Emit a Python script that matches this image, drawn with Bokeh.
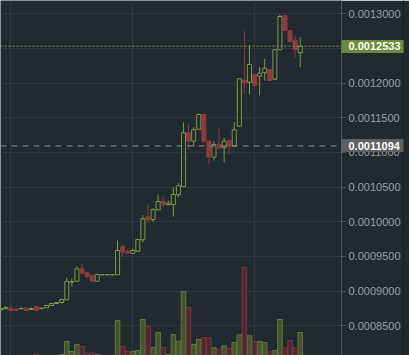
from bokeh.plotting import figure
from bokeh.models import Range1d, FixedTicker, PrintfTickFormatter, Span, LinearAxis, ColumnDataSource
from bokeh.embed import file_html
from bokeh.resources import INLINE

# ---- data (hourly candles) ----
idx = list(range(60))
opens = [0.0008731, 0.0008745, 0.0008754, 0.0008740, 0.0008745, 0.0008754, 0.0008735, 0.0008778, 0.0008745, 0.0008760,
         0.0008793, 0.0008822, 0.0008836, 0.0008875, 0.0009131, 0.0009143, 0.0009322, 0.0009265, 0.0009226, 0.0009143,
         0.0009236, 0.0009236, 0.0009236, 0.0009236, 0.0009644, 0.0009576, 0.0009547, 0.0009576, 0.0009741, 0.0010077,
         0.0010033, 0.0010173, 0.0010293, 0.0010245, 0.0010250, 0.0010390, 0.0010509, 0.0011284, 0.0011163, 0.0011336,
         0.0011548, 0.0011163, 0.0010932, 0.0011115, 0.0011067, 0.0011173, 0.0011090, 0.0011379, 0.0012038, 0.0012013,
         0.0012120, 0.0012100, 0.0012149, 0.0012197, 0.0012057, 0.0012481, 0.0012975, 0.0012759, 0.0012615, 0.0012438]
highs = [0.0008754, 0.0008778, 0.0008778, 0.0008768, 0.0008764, 0.0008764, 0.0008764, 0.0008786, 0.0008764, 0.0008797,
         0.0008825, 0.0008840, 0.0008885, 0.0009197, 0.0009182, 0.0009360, 0.0009394, 0.0009268, 0.0009230, 0.0009250,
         0.0009236, 0.0009236, 0.0009236, 0.0009730, 0.0009668, 0.0009615, 0.0009615, 0.0009750, 0.0010095, 0.0010250,
         0.0010192, 0.0010394, 0.0010365, 0.0010307, 0.0010499, 0.0010557, 0.0011432, 0.0011414, 0.0011365, 0.0011558,
         0.0011552, 0.0011168, 0.0011163, 0.0011356, 0.0011212, 0.0011183, 0.0011437, 0.0012068, 0.0012749, 0.0012543,
         0.0012125, 0.0012230, 0.0012351, 0.0012200, 0.0012485, 0.0012990, 0.0012990, 0.0012765, 0.0012687, 0.0012663]
lows = [0.0008728, 0.0008742, 0.0008718, 0.0008718, 0.0008742, 0.0008718, 0.0008731, 0.0008718, 0.0008742, 0.0008757,
        0.0008790, 0.0008820, 0.0008822, 0.0008872, 0.0009067, 0.0009140, 0.0009255, 0.0009187, 0.0009140, 0.0009140,
        0.0009236, 0.0009236, 0.0009236, 0.0009236, 0.0009500, 0.0009545, 0.0009545, 0.0009570, 0.0009706, 0.0009980,
        0.0009994, 0.0010163, 0.0010211, 0.0010245, 0.0010077, 0.0010355, 0.0010505, 0.0011043, 0.0011090, 0.0011330,
        0.0011134, 0.0010837, 0.0010884, 0.0011058, 0.0010860, 0.0010971, 0.0011085, 0.0011375, 0.0011846, 0.0011836,
        0.0011951, 0.0011822, 0.0012038, 0.0012024, 0.0012050, 0.0012478, 0.0012755, 0.0012590, 0.0012365, 0.0012230]
closes = [0.0008750, 0.0008764, 0.0008721, 0.0008721, 0.0008750, 0.0008721, 0.0008750, 0.0008721, 0.0008754, 0.0008793,
          0.0008822, 0.0008836, 0.0008879, 0.0009139, 0.0009139, 0.0009322, 0.0009259, 0.0009211, 0.0009143, 0.0009240,
          0.0009236, 0.0009236, 0.0009236, 0.0009586, 0.0009562, 0.0009547, 0.0009586, 0.0009745, 0.0010043, 0.0010033,
          0.0010177, 0.0010293, 0.0010245, 0.0010268, 0.0010394, 0.0010519, 0.0011284, 0.0011163, 0.0011327, 0.0011548,
          0.0011163, 0.0010932, 0.0011115, 0.0011062, 0.0011163, 0.0011090, 0.0011327, 0.0012063, 0.0012009, 0.0012269,
          0.0011966, 0.0012143, 0.0012215, 0.0012038, 0.0012481, 0.0012961, 0.0012759, 0.0012601, 0.0012485, 0.0012533]
volumes = [0, 0, 0, 0, 0, 0, 0, 74, 0, 0,
           0, 0, 60, 320, 120, 260, 220, 86, 86, 60,
           0, 0, 0, 740, 220, 126, 120, 140, 760, 620,
           200, 500, 200, 60, 460, 326, 1320, 1000, 260, 360,
           400, 394, 194, 154, 234, 180, 300, 454, 1800, 434,
           320, 320, 300, 114, 140, 760, 194, 340, 194, 500]
price_ticks = [0.00085, 0.0009, 0.00095, 0.0010, 0.00105, 0.0011, 0.00115, 0.0012, 0.00125, 0.0013]
day_ticks = [2, 26, 50]
last_price = 0.0012533
ref_price = 0.0011094

# ---- styles ----
BG = "#222a31"
GRID = "#2e383e"
GREEN = "#7c9b42"
RED = "#8e3a3e"
VGREEN_FILL = "#45542f"
VGREEN_LINE = "#62773a"
VRED_FILL = "#4e2a30"
VRED_LINE = "#773840"
TAG_GREEN = "#6c8a3b"
TAG_GRAY = "#5e6062"

up = [c >= o for o, c in zip(opens, closes)]

def pick(cond):
    return ColumnDataSource(dict(
        x=[i for i, u in zip(idx, up) if u == cond],
        top=[max(o, c) for o, c, u in zip(opens, closes, up) if u == cond],
        bottom=[min(o, c) for o, c, u in zip(opens, closes, up) if u == cond],
        high=[h for h, u in zip(highs, up) if u == cond],
        low=[l for l, u in zip(lows, up) if u == cond],
        vol=[v for v, u in zip(volumes, up) if u == cond],
    ))

src_up = pick(True)
src_dn = pick(False)

p = figure(frame_width=341, frame_height=355, output_backend="svg", toolbar_location=None,
           x_axis_location=None, y_axis_location="right",
           x_range=Range1d(-0.06, 67.13), y_range=Range1d(0.00080717, 0.00131918),
           min_border_left=0, min_border_top=0, min_border_bottom=0, min_border_right=68)
p.background_fill_color = BG
p.border_fill_color = BG
p.outline_line_color = None

p.extra_y_ranges = {"vol": Range1d(40, 7140)}

# grids
p.ygrid.ticker = FixedTicker(ticks=price_ticks)
p.ygrid.grid_line_color = GRID
p.xgrid.ticker = FixedTicker(ticks=day_ticks)
p.xgrid.grid_line_color = GRID

# price axis
ax = p.yaxis[0]
ax.ticker = FixedTicker(ticks=price_ticks)
ax.formatter = PrintfTickFormatter(format="%.7f")
ax.axis_line_color = "#4d565d"
ax.major_tick_line_color = "#4d565d"
ax.major_tick_out = 4
ax.major_tick_in = 0
ax.minor_tick_line_color = None
ax.major_label_text_color = "#9aa0a5"
ax.major_label_text_font = "Liberation Sans"
ax.major_label_text_font_size = "11px"
ax.major_label_standoff = 3

# price-tag axis: thick inward ticks form the tag boxes
tag = LinearAxis(ticker=FixedTicker(ticks=[last_price, ref_price], minor_ticks=[last_price]),
                 formatter=PrintfTickFormatter(format="%.7f"))
tag.axis_line_color = "#181e23"
tag.major_tick_in = 62
tag.major_tick_out = 0
tag.major_tick_line_width = 13
tag.major_tick_line_color = TAG_GRAY
tag.minor_tick_in = 62
tag.minor_tick_out = 0
tag.minor_tick_line_width = 13
tag.minor_tick_line_color = TAG_GREEN
tag.major_label_standoff = -55
tag.major_label_text_color = "#ffffff"
tag.major_label_text_font = "Liberation Sans"
tag.major_label_text_font_style = "bold"
tag.major_label_text_font_size = "11px"
p.add_layout(tag, "right")

# volume
p.vbar(x="x", top="vol", bottom=0, width=0.9, source=src_up, y_range_name="vol",
       fill_color=VGREEN_FILL, line_color=VGREEN_LINE, line_width=1)
p.vbar(x="x", top="vol", bottom=0, width=0.9, source=src_dn, y_range_name="vol",
       fill_color=VRED_FILL, line_color=VRED_LINE, line_width=1)

# reference lines
p.add_layout(Span(location=ref_price, dimension="width", line_color="#8b9095", line_dash="6 5", line_width=1))
p.add_layout(Span(location=last_price, dimension="width", line_color=GREEN, line_dash="2 2", line_width=1))

# candles
p.segment(x0="x", y0="low", x1="x", y1="high", source=src_up, line_color=GREEN, line_width=1)
p.segment(x0="x", y0="low", x1="x", y1="high", source=src_dn, line_color=RED, line_width=1)
p.vbar(x="x", top="top", bottom="bottom", width=0.8, source=src_up,
       fill_color=BG, line_color=GREEN, line_width=1)
p.vbar(x="x", top="top", bottom="bottom", width=0.8, source=src_dn,
       fill_color=RED, line_color=RED, line_width=1)

open("out.html", "w").write(file_html(p, INLINE))
